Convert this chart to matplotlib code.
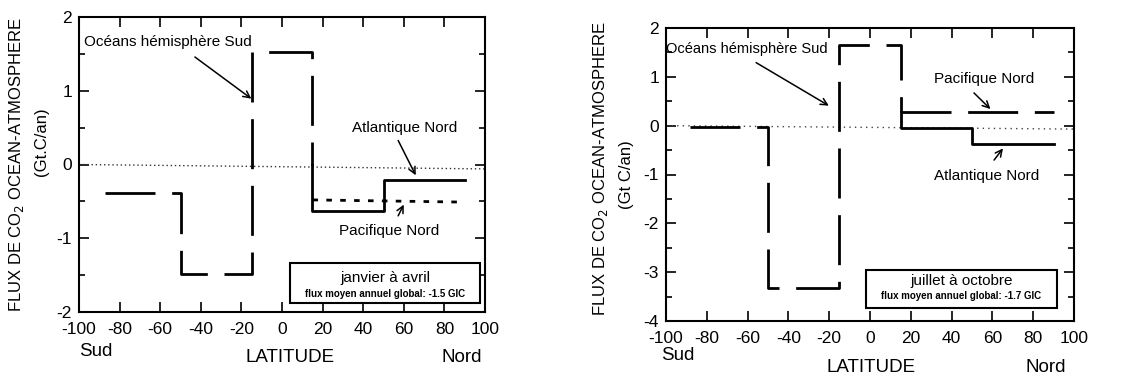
import matplotlib
matplotlib.use("Agg")
import matplotlib.pyplot as plt
from matplotlib.patches import Rectangle
from matplotlib.ticker import MultipleLocator

plt.rcParams['font.family'] = ['Liberation Sans', 'DejaVu Sans']
plt.rcParams['axes.unicode_minus'] = False

# janvier a avril (left panel)
lat_sud_1 = [-87, -50, -50, -15, -15, 15, 15]
flux_sud_1 = [-0.38, -0.38, -1.48, -1.48, 1.52, 1.52, 0.0]
lat_atl_1 = [15, 15, 50, 50, 90]
flux_atl_1 = [0.0, -0.63, -0.63, -0.21, -0.21]
lat_pac_1 = [15, 90]
flux_pac_1 = [-0.48, -0.51]
lat_zero_1 = [-100, 100]
flux_zero_1 = [0.0, -0.06]

# juillet a octobre (right panel)
lat_sud_2 = [-88, -50, -50, -15, -15, 15, 15]
flux_sud_2 = [-0.02, -0.02, -3.32, -3.32, 1.65, 1.65, 0.28]
lat_atl_2 = [15, 15, 50, 50, 90]
flux_atl_2 = [0.28, -0.04, -0.04, -0.37, -0.37]
lat_pac_2 = [15, 90]
flux_pac_2 = [0.27, 0.27]
lat_zero_2 = [-100, 100]
flux_zero_2 = [0.0, -0.07]

xticks = [-100, -80, -60, -40, -20, 0, 20, 40, 60, 80, 100]

W, H = 1128, 377
fig = plt.figure(figsize=(W / 100, H / 100), dpi=100)
fig.set_facecolor('white')


def px(x, y):
    return x / W, 1 - y / H


def setup(ax, ylo, yhi):
    ax.set_xlim(-100, 100)
    ax.set_ylim(ylo, yhi)
    ax.set_xticks(xticks)
    ax.yaxis.set_major_locator(MultipleLocator(1))
    ax.yaxis.set_minor_locator(MultipleLocator(0.5))
    ax.tick_params(which='both', direction='in', top=True, right=True,
                   labelsize=12.5, width=1.2)
    ax.tick_params(which='major', length=7)
    ax.tick_params(which='minor', length=4)
    ax.tick_params(axis='x', pad=7)
    ax.tick_params(axis='y', pad=5)
    for s in ax.spines.values():
        s.set_linewidth(1.5)


longdash = (0, (18, 6))
arrow = dict(arrowstyle='->', lw=1.1, color='black', mutation_scale=12)

# ---- left panel
ax1 = fig.add_axes([79 / W, 1 - 312 / H, 406 / W, 295 / H])
setup(ax1, -2, 2)
ax1.plot(lat_zero_1, flux_zero_1, color='#333333', lw=1, linestyle=(0, (1, 2)))
ax1.plot(lat_sud_1, flux_sud_1, color='black', lw=2, linestyle=longdash)
ax1.plot(lat_pac_1, flux_pac_1, color='black', lw=2, linestyle=(0, (2, 3)))
ax1.plot(lat_atl_1, flux_atl_1, color='black', lw=2)

ax1.text(-97.5, 1.66, 'Océans hémisphère Sud', fontsize=11, va='center', ha='left')
ax1.annotate('', xy=(-14, 0.87), xytext=(-44, 1.48), arrowprops=arrow)
ax1.text(60.6, 0.5, 'Atlantique Nord', fontsize=11, ha='center', va='center')
ax1.annotate('', xy=(66.5, -0.18), xytext=(56.6, 0.36), arrowprops=arrow)
ax1.text(53, -0.9, 'Pacifique Nord', fontsize=11, ha='center', va='center')
ax1.annotate('', xy=(60.6, -0.51), xytext=(56.6, -0.73), arrowprops=arrow)

ax1.add_patch(Rectangle((4, -1.88), 93.5, 0.54, fill=False, lw=1.5, ec='black'))
ax1.text(50.7, -1.54, 'janvier à avril', fontsize=11, ha='center', va='center')
ax1.text(50.7, -1.75, 'flux moyen annuel global: -1.5 GIC', fontsize=7,
         fontweight='bold', ha='center', va='center')

fig.text(*px(17, 165), 'FLUX DE CO$_2$ OCEAN-ATMOSPHERE', rotation=90,
         fontsize=12, ha='center', va='center')
fig.text(*px(42, 142), '(Gt.C/an)', rotation=90, fontsize=12,
         ha='center', va='center')
fig.text(*px(79, 352), 'Sud', fontsize=13.5, ha='left', va='center')
fig.text(*px(290, 357), 'LATITUDE', fontsize=13.5, ha='center', va='center')
fig.text(*px(482, 358), 'Nord', fontsize=13.5, ha='right', va='center')

# ---- right panel
ax2 = fig.add_axes([666 / W, 1 - 321 / H, 408 / W, 293 / H])
setup(ax2, -4, 2)
ax2.plot(lat_zero_2, flux_zero_2, color='#444444', lw=1, linestyle=(0, (1, 3)))
ax2.plot(lat_sud_2, flux_sud_2, color='black', lw=2, linestyle=longdash)
ax2.plot(lat_pac_2, flux_pac_2, color='black', lw=2, linestyle=longdash)
ax2.plot(lat_atl_2, flux_atl_2, color='black', lw=2)

ax2.text(-100, 1.57, 'Océans hémisphère Sud', fontsize=10.5, ha='left', va='center')
ax2.annotate('', xy=(-19, 0.38), xytext=(-57, 1.32), arrowprops=arrow)
ax2.text(56, 0.95, 'Pacifique Nord', fontsize=11, ha='center', va='center')
ax2.annotate('', xy=(60, 0.3), xytext=(50, 0.71), arrowprops=arrow)
ax2.text(57, -1.04, 'Atlantique Nord', fontsize=11, ha='center', va='center')
ax2.annotate('', xy=(66, -0.42), xytext=(60, -0.75), arrowprops=arrow)

ax2.add_patch(Rectangle((-2, -3.73), 93.7, 0.78, fill=False, lw=1.5, ec='black'))
ax2.text(44.8, -3.19, 'juillet à octobre', fontsize=11, ha='center', va='center')
ax2.text(44.8, -3.48, 'flux moyen annuel global: -1.7 GIC', fontsize=7,
         fontweight='bold', ha='center', va='center')

fig.text(*px(601, 169), 'FLUX DE CO$_2$ OCEAN-ATMOSPHERE', rotation=90,
         fontsize=12, ha='center', va='center')
fig.text(*px(626, 175), '(Gt C/an)', rotation=90, fontsize=12,
         ha='center', va='center')
fig.text(*px(661, 355), 'Sud', fontsize=13.5, ha='left', va='center')
fig.text(*px(871, 367), 'LATITUDE', fontsize=13.5, ha='center', va='center')
fig.text(*px(1066, 368), 'Nord', fontsize=13.5, ha='right', va='center')

fig.savefig('out.png', dpi=100)
